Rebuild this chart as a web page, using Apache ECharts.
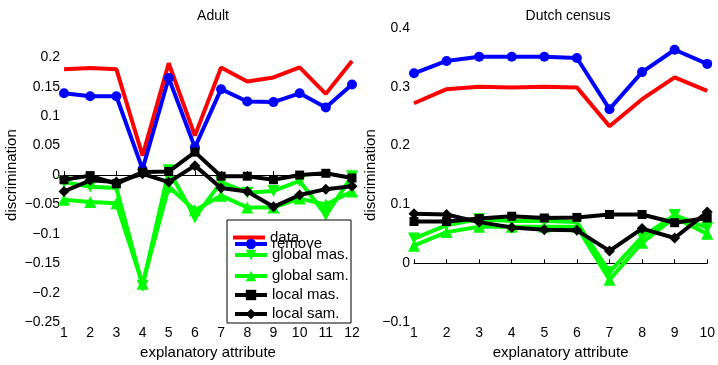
<!DOCTYPE html>
<html>
<head>
<meta charset="utf-8">
<script src="https://cdn.jsdelivr.net/npm/echarts@6/dist/echarts.min.js"></script>
<style>
  html, body { margin: 0; padding: 0; background: #fff; }
  #chart { width: 718px; height: 365px; }
</style>
</head>
<body>
<div id="chart"></div>
<script>
const adultCats = ['1', '2', '3', '4', '5', '6', '7', '8', '9', '10', '11', '12']
const adultData = [0.180, 0.182, 0.180, 0.033, 0.190, 0.067, 0.183, 0.159, 0.166, 0.183, 0.138, 0.194]
const adultRemove = [0.139, 0.134, 0.134, 0.010, 0.165, 0.047, 0.146, 0.125, 0.124, 0.139, 0.115, 0.154]
const adultGlobalMas = [-0.012, -0.020, -0.022, -0.188, 0.008, -0.072, -0.012, -0.030, -0.027, -0.010, -0.068, -0.002]
const adultGlobalSam = [-0.042, -0.046, -0.048, -0.185, -0.020, -0.060, -0.035, -0.055, -0.055, -0.040, -0.050, -0.028]
const adultLocalMas = [-0.008, -0.001, -0.015, 0.005, 0.006, 0.039, -0.002, -0.002, -0.008, 0.000, 0.003, -0.005]
const adultLocalSam = [-0.028, -0.009, -0.012, 0.002, -0.012, 0.016, -0.022, -0.028, -0.054, -0.034, -0.024, -0.019]

const dutchCats = ['1', '2', '3', '4', '5', '6', '7', '8', '9', '10']
const dutchData = [0.272, 0.296, 0.300, 0.299, 0.300, 0.299, 0.233, 0.279, 0.316, 0.293]
const dutchRemove = [0.323, 0.344, 0.351, 0.351, 0.351, 0.349, 0.262, 0.325, 0.363, 0.339]
const dutchGlobalMas = [0.042, 0.065, 0.075, 0.072, 0.072, 0.070, -0.015, 0.045, 0.082, 0.060]
const dutchGlobalSam = [0.030, 0.053, 0.062, 0.062, 0.062, 0.062, -0.028, 0.035, 0.078, 0.050]
const dutchLocalMas = [0.071, 0.071, 0.076, 0.080, 0.077, 0.078, 0.083, 0.083, 0.069, 0.077]
const dutchLocalSam = [0.084, 0.083, 0.070, 0.061, 0.057, 0.056, 0.021, 0.059, 0.043, 0.087]

const FONT = '"Liberation Sans", Arial, sans-serif'

function fmt(v) {
  if (Math.abs(v) < 1e-9) return '0'
  const s = String(+v.toFixed(2))
  return s.replace('-', '\u2212')
}

const STYLES = [
  { name: 'data', color: '#ff0000', symbol: 'none', size: 0, rotate: 0 },
  { name: 'remove', color: '#0000ff', symbol: 'circle', size: 10, rotate: 0 },
  { name: 'global mas.', color: '#00ff00', symbol: 'triangle', size: 12, rotate: 180 },
  { name: 'global sam.', color: '#00ff00', symbol: 'triangle', size: 12, rotate: 0 },
  { name: 'local mas.', color: '#000000', symbol: 'rect', size: 9, rotate: 0 },
  { name: 'local sam.', color: '#000000', symbol: 'diamond', size: 11, rotate: 0 }
]

function makeSeries(idx, lists) {
  return STYLES.map((s, i) => ({
    type: 'line',
    name: s.name,
    xAxisIndex: idx,
    yAxisIndex: idx,
    data: lists[i],
    symbol: s.symbol,
    symbolSize: s.size,
    symbolRotate: s.rotate,
    showSymbol: s.symbol !== 'none',
    lineStyle: { color: s.color, width: 4 },
    itemStyle: { color: s.color },
    animation: false,
    z: 2 + i * 0.1
  }))
}

const legendNames = ['data', 'remove', 'global mas.', 'global sam.', 'local mas.', 'local sam.']
const legendCenters = [232, 243, 254, 275, 294, 313]

const chart = echarts.init(document.getElementById('chart'))

const axisCommon = {
  axisLine: { lineStyle: { color: '#000', width: 1 } },
  axisTick: { inside: true, length: 4, lineStyle: { color: '#000' } },
  axisLabel: { color: '#000', fontSize: 14, fontFamily: FONT },
  splitLine: { show: false },
  nameTextStyle: { color: '#000', fontSize: 15, fontFamily: FONT }
}

chart.setOption({
  animation: false,
  title: [
    { text: 'Adult', left: 208, top: 4, textAlign: 'center',
      textStyle: { fontSize: 14, fontWeight: 'normal', color: '#000', fontFamily: FONT } },
    { text: 'Dutch census', left: 563, top: 4, textAlign: 'center',
      textStyle: { fontSize: 14, fontWeight: 'normal', color: '#000', fontFamily: FONT } }
  ],
  grid: [
    { left: 64, right: 366, top: 28, bottom: 40 },
    { left: 414, right: 6, top: 28, bottom: 40 }
  ],
  xAxis: [
    { ...axisCommon, type: 'category', gridIndex: 0, data: adultCats, boundaryGap: false,
      name: 'explanatory attribute', nameLocation: 'middle', nameGap: 21,
      axisLabel: { ...axisCommon.axisLabel, interval: 0, margin: 4 } },
    { ...axisCommon, type: 'category', gridIndex: 1, data: dutchCats, boundaryGap: false,
      name: 'explanatory attribute', nameLocation: 'middle', nameGap: 21,
      axisLabel: { ...axisCommon.axisLabel, interval: 0, margin: 4 } }
  ],
  yAxis: [
    { ...axisCommon, type: 'value', gridIndex: 0, min: -0.25, max: 0.25, interval: 0.05,
      name: 'discrimination', nameLocation: 'middle', nameGap: 45,
      axisLabel: { ...axisCommon.axisLabel, margin: 4,
        formatter: v => (Math.abs(v - 0.25) < 1e-9 ? '' : fmt(v)) } },
    { ...axisCommon, type: 'value', gridIndex: 1, min: -0.1, max: 0.4, interval: 0.1,
      name: 'discrimination', nameLocation: 'middle', nameGap: 34,
      axisLabel: { ...axisCommon.axisLabel, margin: 4, formatter: v => fmt(v) } }
  ],
  graphic: [
    { type: 'rect', z: 3, shape: { x: 227, y: 220, width: 124, height: 103 },
      style: { fill: '#fff', stroke: '#000', lineWidth: 1 } }
  ],
  legend: legendNames.map((n, i) => {
    const isData = n === 'data'
    const h = isData ? 4 : 13
    return {
      data: [isData ? { name: n, icon: 'rect', itemStyle: { color: '#ff0000' } } : n],
      left: 233,
      top: legendCenters[i] - h / 2,
      itemWidth: 32,
      itemHeight: h,
      itemGap: 0,
      padding: 0,
      z: 4,
      lineStyle: { width: 4 },
      textStyle: { color: '#000', fontSize: 15, fontFamily: FONT },
      selectedMode: false
    }
  }),
  series: [
    ...makeSeries(0, [adultData, adultRemove, adultGlobalMas, adultGlobalSam, adultLocalMas, adultLocalSam]),
    ...makeSeries(1, [dutchData, dutchRemove, dutchGlobalMas, dutchGlobalSam, dutchLocalMas, dutchLocalSam])
  ]
})
</script>
</body>
</html>
